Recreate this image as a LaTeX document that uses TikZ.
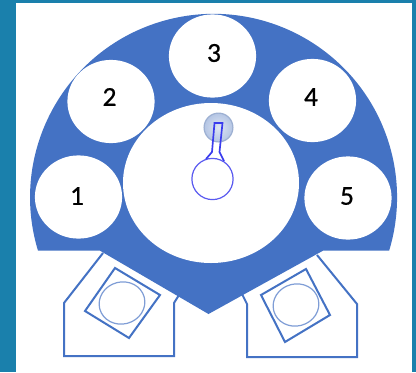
\documentclass[tikz,border=0pt]{standalone}
\usepackage{fontspec}
\setmainfont{Carlito}
\newfontfamily\digitfont[FakeBold=0.7]{Carlito}
\usetikzlibrary{shapes.geometric}
\definecolor{frameTeal}{HTML}{1A80AC}
\definecolor{wheelBlue}{HTML}{4472C4}
\definecolor{lensBlue}{HTML}{7F9DD6}
\definecolor{armBlue}{HTML}{3A3CEE}
\definecolor{hubBlue}{HTML}{5A5AF0}
\definecolor{spotEdge}{HTML}{9DB0D2}
\definecolor{spotFill}{HTML}{B4C5E4}
\begin{document}
\begin{tikzpicture}[
    x=0.25mm,y=-0.25mm,
    slot/.style={ellipse,fill=white,minimum width=21.8mm,minimum height=20.8mm,inner sep=0pt},
    digit/.style={font=\digitfont\fontsize{19.5}{20}\selectfont,inner sep=0pt},
    holder/.style={draw=wheelBlue,line width=0.5mm,line join=miter},
    lens/.style={draw=lensBlue,line width=0.3mm},
    arm/.style={draw=armBlue,line width=0.42mm}
]
\useasboundingbox (0,0) rectangle (416,372);
\fill[frameTeal] (0,0) rectangle (416,372);
\fill[white] (16,3) rectangle (412,372);

% lower holders
\draw[holder] (103,253) -- (64,303) -- (64,356) -- (174,356) -- (174,303) -- (179,295);
\draw[holder] (317,255) -- (357,304) -- (357,357) -- (247,357) -- (247,304) -- (242,294);
\draw[holder] (115,268) -- (160,295) -- (129,338) -- (85,311) -- cycle;
\draw[holder] (306,269) -- (330,315) -- (285,342) -- (261,295) -- cycle;
\draw[lens,rotate around={15:(122,303)}] (122,303) ellipse (23 and 21);
\draw[lens,rotate around={15:(296,305)}] (296,305) ellipse (23 and 21);

% wheel
\fill[wheelBlue] (38,250.7) arc[start angle=163.1,end angle=376.9,radius=183.5]
    -- (323,250.7) -- (208.5,314) -- (100,250.7) -- cycle;
\node[slot] (slotA) at (78.5,197) {};
\node[slot] (slotB) at (111,101.5) {};
\node[slot] (slotC) at (212.5,56) {};
\node[slot] (slotD) at (312.5,100.5) {};
\node[slot] (slotE) at (348,198) {};
\node[digit] (numA) at (77,196) {1};
\node[digit] (numB) at (109.5,97) {2};
\node[digit] (numC) at (214,53) {3};
\node[digit] (numD) at (311,97) {4};
\node[digit] (numE) at (347,196) {5};
\node[ellipse,fill=white,minimum width=44mm,minimum height=40mm,inner sep=0pt] (bore) at (211,183) {};

% pointer
\node[circle,minimum size=7.2mm,inner sep=0pt,draw=spotEdge,line width=0.3mm,inner color=white!55!spotFill,outer color=spotFill] (spot) at (218.5,127.5) {};
\node[circle,minimum size=10.3mm,inner sep=0pt,draw=hubBlue,line width=0.3mm,fill=white] (hub) at (212.5,179) {};
\draw[arm] (206,159) -- (212,152) -- (214.5,123) -- (222.5,123) -- (219.5,152) -- (224,161);
\end{tikzpicture}
\end{document}
